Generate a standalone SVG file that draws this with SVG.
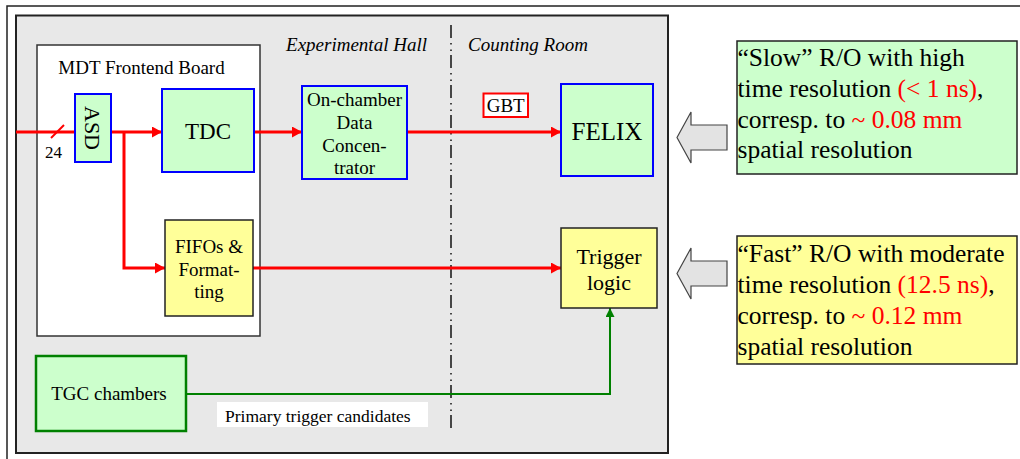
<svg xmlns="http://www.w3.org/2000/svg" width="1020" height="459" viewBox="0 0 1020 459" font-family="'Liberation Serif', serif">
<defs>
<style>
text{font-family:'Liberation Serif', serif;fill:#000}
.blue{fill:#ccffcc;stroke:#0000ff;stroke-width:2}
.ybox{fill:#ffff99;stroke:#222;stroke-width:1.5}
.red{stroke:#ff0000;stroke-width:3;fill:none}
.grn{stroke:#008000;stroke-width:2;fill:none}
.r{fill:#ff0000}
.side{font-size:25.5px}
.barrow{fill:#e3e3e3;stroke:#444;stroke-width:1.2}
</style>
<marker id="ar" markerUnits="userSpaceOnUse" markerWidth="10" markerHeight="11" refX="10" refY="5.5" orient="auto">
<path d="M0,0 L10,5.5 L0,11 z" fill="#ff0000"/>
</marker>
<marker id="ag" markerUnits="userSpaceOnUse" markerWidth="9" markerHeight="9" refX="9" refY="4.5" orient="auto">
<path d="M0,0 L9,4.5 L0,9 z" fill="#008000"/>
</marker>
</defs>
<rect width="1020" height="459" fill="#fff"/>
<path d="M7,470 V6 H1030" fill="none" stroke="#222" stroke-width="1.5"/>
<rect id="hall" x="16" y="15.5" width="652" height="437.5" fill="#e8e8e8" stroke="#222" stroke-width="2"/>
<rect id="mdtboard" x="37" y="45" width="223" height="291" fill="#fff" stroke="#333" stroke-width="1.5"/>
<text x="141.5" y="74" font-size="19" text-anchor="middle">MDT Frontend Board</text>
<text x="356.5" y="51" font-size="19" font-style="italic" text-anchor="middle">Experimental Hall</text>
<text x="528" y="51" font-size="19" font-style="italic" text-anchor="middle">Counting Room</text>
<line x1="451" y1="25" x2="451" y2="431" stroke="#111" stroke-width="1.5" stroke-dasharray="13 5 1.5 5 1.5 4"/>
<g id="connectors">
<path class="red" d="M16,132 H75"/>
<path d="M51,138 L64,125" stroke="#ff0000" stroke-width="2"/>
<path class="red" d="M111,132 H162" marker-end="url(#ar)"/>
<path class="red" d="M124,132 V268 H165" marker-end="url(#ar)"/>
<path class="red" d="M254,132 H302" marker-end="url(#ar)"/>
<path class="red" d="M407,132 H561" marker-end="url(#ar)"/>
<path class="red" d="M253,268 H561" marker-end="url(#ar)"/>
<path class="grn" d="M186,394 H610 V308" marker-end="url(#ag)"/>
</g>
<text x="53.5" y="158" font-size="17" text-anchor="middle">24</text>
<g id="asd">
<rect class="blue" x="75" y="94" width="36" height="68"/>
<text transform="translate(92,128) rotate(90)" y="7.5" font-size="22" text-anchor="middle">ASD</text>
</g>
<g id="tdc">
<rect class="blue" x="162" y="89" width="92" height="83"/>
<text x="208" y="139" font-size="23" text-anchor="middle">TDC</text>
</g>
<g id="fifo">
<rect class="ybox" x="165" y="220" width="88" height="96"/>
<text x="209" y="253" font-size="19" text-anchor="middle">FIFOs &amp;</text>
<text x="209" y="276" font-size="19" text-anchor="middle">Format-</text>
<text x="209" y="298" font-size="19" text-anchor="middle">ting</text>
</g>
<g id="onchamber">
<rect class="blue" x="302" y="86" width="105" height="93"/>
<text x="354.5" y="106" font-size="19" text-anchor="middle">On-chamber</text>
<text x="354.5" y="129" font-size="19" text-anchor="middle">Data</text>
<text x="354.5" y="151.5" font-size="19" text-anchor="middle">Concen-</text>
<text x="354.5" y="174" font-size="19" text-anchor="middle">trator</text>
</g>
<g id="gbt">
<rect x="483.5" y="93.5" width="44.5" height="23.5" fill="#fff" stroke="#ff0000" stroke-width="2"/>
<text x="505.7" y="112" font-size="19" text-anchor="middle">GBT</text>
</g>
<g id="felix">
<rect class="blue" x="561" y="84" width="92" height="92"/>
<text x="607" y="140" font-size="25" text-anchor="middle">FELIX</text>
</g>
<g id="trigger">
<rect class="ybox" x="561" y="228" width="96" height="80"/>
<text x="609" y="264" font-size="22" text-anchor="middle">Trigger</text>
<text x="609" y="290" font-size="22" text-anchor="middle">logic</text>
</g>
<g id="tgc">
<rect x="36" y="356" width="150" height="75" fill="#ccffcc" stroke="#008000" stroke-width="2.5"/>
<text x="109" y="400" font-size="19" text-anchor="middle">TGC chambers</text>
</g>
<g id="primlabel">
<rect x="217" y="402" width="211" height="25" fill="#fff"/>
<text x="225" y="421.5" font-size="17.5">Primary trigger candidates</text>
</g>
<g id="slowarrow">
<polygon class="barrow" points="677,137.5 691,112 691,125 727,125 727,150 691,150 691,163"/>
</g>
<g id="slow">
<rect x="737" y="41" width="280" height="133" fill="#ccffcc" stroke="#222" stroke-width="1.5"/>
<text class="side" x="737.5" y="66">“Slow” R/O with high</text>
<text class="side" x="737.5" y="96.5">time resolution <tspan class="r">(&lt; 1 ns)</tspan>,</text>
<text class="side" x="737.5" y="127.5">corresp. to <tspan class="r">~ 0.08 mm</tspan></text>
<text class="side" x="737.5" y="158">spatial resolution</text>
</g>
<g id="fastarrow">
<polygon class="barrow" points="677,273.5 691,248 691,261 727,261 727,286 691,286 691,299"/>
</g>
<g id="fast">
<rect x="737" y="236" width="280" height="128" fill="#ffff99" stroke="#222" stroke-width="1.5"/>
<text class="side" x="737.5" y="262">“Fast” R/O with moderate</text>
<text class="side" x="737.5" y="293">time resolution <tspan class="r">(12.5 ns)</tspan>,</text>
<text class="side" x="737.5" y="324">corresp. to <tspan class="r">~ 0.12 mm</tspan></text>
<text class="side" x="737.5" y="354.5">spatial resolution</text>
</g>
</svg>
